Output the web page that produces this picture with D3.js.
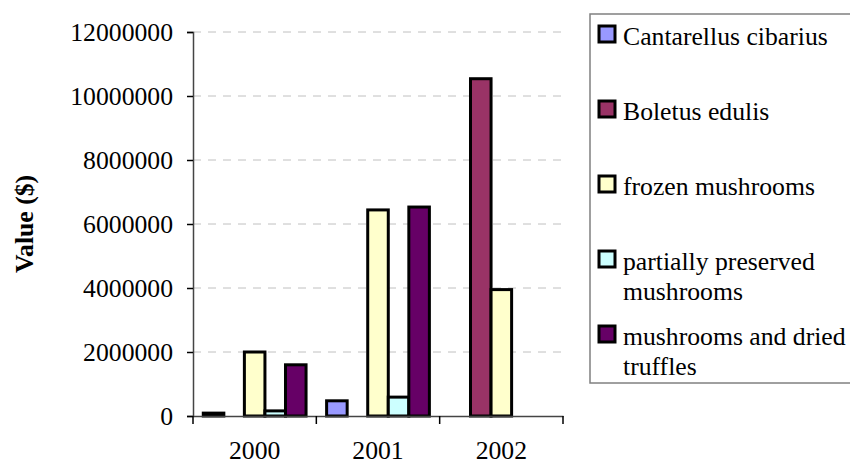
<!DOCTYPE html>
<html>
<head>
<meta charset="utf-8">
<script src="https://cdn.jsdelivr.net/npm/d3@7/dist/d3.min.js"></script>
<style>
  body { margin: 0; background: #fff; }
</style>
</head>
<body>
<svg id="grafico" width="850" height="466"></svg>
<script>
const years = ["2000", "2001", "2002"];
const series = ["Cantarellus cibarius", "Boletus edulis", "frozen mushrooms",
                "partially preserved mushrooms", "mushrooms and dried truffles"];
// values per series, one entry per year
const cantarellus = [90000, 475000, 0];
const boletus     = [0, 0, 10540000];
const frozen      = [2000000, 6440000, 3950000];
const partial     = [160000, 590000, 0];
const dried       = [1600000, 6530000, 0];
const yTicks = [0, 2000000, 4000000, 6000000, 8000000, 10000000, 12000000];

const colores = ["#9999FF", "#993366", "#FFFFCC", "#CCFFFF", "#660066"];
const legendLines = [["Cantarellus cibarius"], ["Boletus edulis"], ["frozen mushrooms"],
                     ["partially preserved", "mushrooms"], ["mushrooms and dried", "truffles"]];

const valores = [cantarellus, boletus, frozen, partial, dried];
const fontSize = "25.7px";
const serif = "'Liberation Serif', 'Times New Roman', serif";

const svg = d3.select("#grafico").attr("font-family", serif);
const mLeft = 193, mRight = 563, mTop = 32, mBottom = 416;

const x = d3.scaleBand().domain(years).range([mLeft, mRight]).paddingInner(0).paddingOuter(0);
const bw = x.bandwidth();
const x1 = d3.scaleBand().domain(series).range([bw / 12, bw - bw / 12]);
const y = d3.scaleLinear().domain([0, 12000000]).range([mBottom, mTop]);

// gridlines
svg.append("g").selectAll("line")
  .data(yTicks.slice(1))
  .join("line")
  .attr("x1", mLeft).attr("x2", mRight)
  .attr("y1", d => y(d)).attr("y2", d => y(d))
  .attr("stroke", "#c0c0c0")
  .attr("stroke-width", 1)
  .attr("stroke-dasharray", "8,7");

// bars
const grupos = svg.append("g").selectAll("g")
  .data(years)
  .join("g")
  .attr("transform", d => `translate(${x(d)},0)`);

grupos.selectAll("rect")
  .data((yr, i) => series.map((s, k) => ({ s, k, v: valores[k][i] })).filter(d => d.v > 0))
  .join("rect")
  .attr("x", d => x1(d.s))
  .attr("width", x1.bandwidth())
  .attr("y", d => y(d.v))
  .attr("height", d => mBottom - y(d.v))
  .attr("fill", d => colores[d.k])
  .attr("stroke", "#000")
  .attr("stroke-width", 3);

// y axis
const yAxis = svg.append("g")
  .attr("transform", `translate(${mLeft},0)`)
  .call(d3.axisLeft(y).tickValues(yTicks).tickFormat(d3.format("d")).tickSize(6).tickPadding(14));
yAxis.attr("font-family", serif);
yAxis.select(".domain").attr("stroke", "#444").attr("stroke-width", 1.5);
yAxis.selectAll(".tick line").attr("stroke", "#000").attr("stroke-width", 1.5);
yAxis.selectAll("text").style("font-size", fontSize).attr("fill", "#000");

// x axis
const xAxis = svg.append("g")
  .attr("transform", `translate(0,${mBottom})`)
  .call(d3.axisBottom(x).tickSize(0).tickPadding(0));
xAxis.attr("font-family", serif);
xAxis.select(".domain").attr("stroke", "#444").attr("stroke-width", 1.5);
xAxis.selectAll("text").style("font-size", fontSize).attr("fill", "#000")
  .attr("dy", null).attr("y", 43);
xAxis.selectAll(".bound")
  .data(d3.range(years.length + 1))
  .join("line")
  .attr("x1", i => mLeft + i * x.step()).attr("x2", i => mLeft + i * x.step())
  .attr("y1", 0).attr("y2", 8)
  .attr("stroke", "#000").attr("stroke-width", 1.5);

// y title
svg.append("text")
  .attr("transform", `translate(33,${(mTop + mBottom) / 2}) rotate(-90)`)
  .attr("text-anchor", "middle")
  .style("font-size", fontSize)
  .style("font-weight", "bold")
  .text("Value ($)");

// legend
const lg = svg.append("g").attr("font-family", serif);
lg.append("rect")
  .attr("x", 590).attr("y", 14).attr("width", 280).attr("height", 369)
  .attr("fill", "#fff").attr("stroke", "#808080").attr("stroke-width", 1.5);

const items = lg.selectAll("g.item")
  .data(legendLines)
  .join("g")
  .attr("class", "item")
  .attr("transform", (d, i) => `translate(0,${45 + i * 75})`);

items.append("rect")
  .attr("x", 599).attr("y", -19).attr("width", 16).attr("height", 16)
  .attr("fill", (d, i) => colores[i])
  .attr("stroke", "#000").attr("stroke-width", 3);

items.append("text")
  .attr("x", 623)
  .style("font-size", fontSize)
  .selectAll("tspan")
  .data(d => d)
  .join("tspan")
  .attr("x", 623)
  .attr("y", (d, j) => j * 30)
  .text(d => d);
</script>
</body>
</html>
